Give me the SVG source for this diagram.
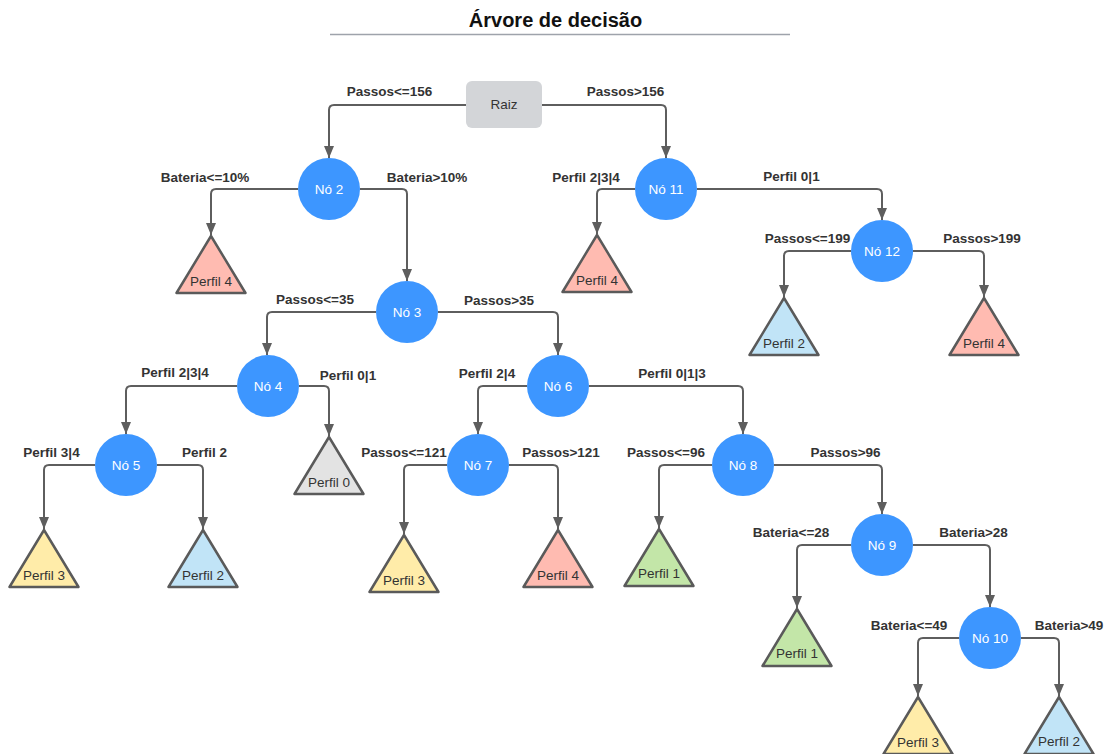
<svg xmlns="http://www.w3.org/2000/svg" width="1109" height="754" viewBox="0 0 1109 754">
<style>
.bg{fill:#ffffff}
.title{font-family:"Liberation Sans",Arial,sans-serif;font-size:20px;font-weight:bold;fill:#111111;text-anchor:middle}
.lbl{font-family:"Liberation Sans",Arial,sans-serif;font-size:13.5px;font-weight:bold;fill:#333333;text-anchor:middle}
.edge{fill:none;stroke:#5e5e5e;stroke-width:2}
.circ{fill:#3d96ff}
.ntxt{font-family:"Liberation Sans",Arial,sans-serif;font-size:13.5px;fill:#ffffff;text-anchor:middle}
.tri{stroke:#5a5a5a;stroke-width:2.5;stroke-linejoin:round}
.ttxt{font-family:"Liberation Sans",Arial,sans-serif;font-size:13.5px;fill:#333333;text-anchor:middle}
.pink{fill:#ffbbb1}
.blue{fill:#c1e4f7}
.yellow{fill:#ffeca9}
.green{fill:#c3e6a8}
.gray{fill:#e3e3e3}
</style>
<defs>
<marker id="arr" markerUnits="userSpaceOnUse" markerWidth="12" markerHeight="10" refX="12" refY="5" orient="auto">
<path d="M0,0 L12,5 L0,10 z" fill="#5e5e5e"/>
</marker>
</defs>
<rect class="bg" x="0" y="0" width="1109" height="754"/>
<g id="title">
<text class="title" x="555.5" y="27">Árvore de decisão</text>
<line x1="330" y1="34.5" x2="790" y2="34.5" stroke="#9ea3ab" stroke-width="1.5"/>
</g>
<g id="connectors">
<path class="edge" marker-end="url(#arr)" d="M466,105 H334 Q329,105 329,110 V158"/>
<path class="edge" marker-end="url(#arr)" d="M542,105 H661 Q666,105 666,110 V158"/>
<path class="edge" marker-end="url(#arr)" d="M298,189 H216 Q211,189 211,194 V235"/>
<path class="edge" marker-end="url(#arr)" d="M360,189 H402 Q407,189 407,194 V281"/>
<path class="edge" marker-end="url(#arr)" d="M376,312 H272 Q267,312 267,317 V355"/>
<path class="edge" marker-end="url(#arr)" d="M438,312 H553 Q558,312 558,317 V355"/>
<path class="edge" marker-end="url(#arr)" d="M237,386 H131 Q126,386 126,391 V434"/>
<path class="edge" marker-end="url(#arr)" d="M299,386 H324 Q329,386 329,391 V436"/>
<path class="edge" marker-end="url(#arr)" d="M95,465 H49 Q44,465 44,470 V529"/>
<path class="edge" marker-end="url(#arr)" d="M157,465 H198 Q203,465 203,470 V529"/>
<path class="edge" marker-end="url(#arr)" d="M527,386 H483 Q478,386 478,391 V434"/>
<path class="edge" marker-end="url(#arr)" d="M589,386 H738 Q743,386 743,391 V434"/>
<path class="edge" marker-end="url(#arr)" d="M447,465 H409 Q404,465 404,470 V534"/>
<path class="edge" marker-end="url(#arr)" d="M509,465 H553 Q558,465 558,470 V529"/>
<path class="edge" marker-end="url(#arr)" d="M712,465 H664 Q659,465 659,470 V528"/>
<path class="edge" marker-end="url(#arr)" d="M774,465 H877 Q882,465 882,470 V514"/>
<path class="edge" marker-end="url(#arr)" d="M851,545 H802 Q797,545 797,550 V608"/>
<path class="edge" marker-end="url(#arr)" d="M913,545 H985 Q990,545 990,550 V607"/>
<path class="edge" marker-end="url(#arr)" d="M959,638 H923 Q918,638 918,643 V696"/>
<path class="edge" marker-end="url(#arr)" d="M1021,638 H1054 Q1059,638 1059,643 V696"/>
<path class="edge" marker-end="url(#arr)" d="M635,189 H602 Q597,189 597,194 V234"/>
<path class="edge" marker-end="url(#arr)" d="M697,189 H877 Q882,189 882,194 V220"/>
<path class="edge" marker-end="url(#arr)" d="M851,251 H789 Q784,251 784,256 V297"/>
<path class="edge" marker-end="url(#arr)" d="M913,251 H979 Q984,251 984,256 V297"/>
</g>
<g id="edge-labels">
<text class="lbl" x="389.5" y="96">Passos&lt;=156</text>
<text class="lbl" x="625.5" y="96">Passos&gt;156</text>
<text class="lbl" x="205" y="182">Bateria&lt;=10%</text>
<text class="lbl" x="427" y="182">Bateria&gt;10%</text>
<text class="lbl" x="586" y="182">Perfil 2|3|4</text>
<text class="lbl" x="791.5" y="181">Perfil 0|1</text>
<text class="lbl" x="807.5" y="243">Passos&lt;=199</text>
<text class="lbl" x="982" y="243">Passos&gt;199</text>
<text class="lbl" x="315" y="304">Passos&lt;=35</text>
<text class="lbl" x="499" y="305">Passos&gt;35</text>
<text class="lbl" x="175" y="377">Perfil 2|3|4</text>
<text class="lbl" x="348" y="380">Perfil 0|1</text>
<text class="lbl" x="487" y="378">Perfil 2|4</text>
<text class="lbl" x="672" y="378">Perfil 0|1|3</text>
<text class="lbl" x="51.5" y="457">Perfil 3|4</text>
<text class="lbl" x="204.5" y="457">Perfil 2</text>
<text class="lbl" x="404" y="457">Passos&lt;=121</text>
<text class="lbl" x="561" y="457">Passos&gt;121</text>
<text class="lbl" x="666" y="457">Passos&lt;=96</text>
<text class="lbl" x="845.5" y="457">Passos&gt;96</text>
<text class="lbl" x="791" y="537">Bateria&lt;=28</text>
<text class="lbl" x="973.5" y="537">Bateria&gt;28</text>
<text class="lbl" x="909" y="630">Bateria&lt;=49</text>
<text class="lbl" x="1069" y="630">Bateria&gt;49</text>
</g>
<g id="raiz">
<rect x="466" y="81" width="76" height="47" rx="6" fill="#d3d5d8"/>
<text class="ttxt" x="504" y="109">Raiz</text>
</g>
<g id="no2"><circle class="circ" cx="329" cy="189" r="31"/><text class="ntxt" x="329" y="194">Nó 2</text></g>
<g id="no3"><circle class="circ" cx="407" cy="312" r="31"/><text class="ntxt" x="407" y="317">Nó 3</text></g>
<g id="no4"><circle class="circ" cx="268" cy="386" r="31"/><text class="ntxt" x="268" y="391">Nó 4</text></g>
<g id="no5"><circle class="circ" cx="126" cy="465" r="31"/><text class="ntxt" x="126" y="470">Nó 5</text></g>
<g id="no6"><circle class="circ" cx="558" cy="386" r="31"/><text class="ntxt" x="558" y="391">Nó 6</text></g>
<g id="no7"><circle class="circ" cx="478" cy="465" r="31"/><text class="ntxt" x="478" y="470">Nó 7</text></g>
<g id="no8"><circle class="circ" cx="743" cy="465" r="31"/><text class="ntxt" x="743" y="470">Nó 8</text></g>
<g id="no9"><circle class="circ" cx="882" cy="545" r="31"/><text class="ntxt" x="882" y="550">Nó 9</text></g>
<g id="no10"><circle class="circ" cx="990" cy="638" r="31"/><text class="ntxt" x="990" y="643">Nó 10</text></g>
<g id="no11"><circle class="circ" cx="666" cy="189" r="31"/><text class="ntxt" x="666" y="194">Nó 11</text></g>
<g id="no12"><circle class="circ" cx="882" cy="251" r="31"/><text class="ntxt" x="882" y="256">Nó 12</text></g>
<g id="leaf1"><polygon class="tri pink" points="211,236 245.5,293 176.5,293"/><text class="ttxt" x="211" y="286">Perfil 4</text></g>
<g id="leaf2"><polygon class="tri pink" points="597,235 631.5,292 562.5,292"/><text class="ttxt" x="597" y="285">Perfil 4</text></g>
<g id="leaf3"><polygon class="tri blue" points="784,298 818.5,355 749.5,355"/><text class="ttxt" x="784" y="348">Perfil 2</text></g>
<g id="leaf4"><polygon class="tri pink" points="984,298 1018.5,355 949.5,355"/><text class="ttxt" x="984" y="348">Perfil 4</text></g>
<g id="leaf5"><polygon class="tri gray" points="329,437 363.5,494 294.5,494"/><text class="ttxt" x="329" y="487">Perfil 0</text></g>
<g id="leaf6"><polygon class="tri yellow" points="44,530 78.5,587 9.5,587"/><text class="ttxt" x="44" y="580">Perfil 3</text></g>
<g id="leaf7"><polygon class="tri blue" points="203,530 237.5,587 168.5,587"/><text class="ttxt" x="203" y="580">Perfil 2</text></g>
<g id="leaf8"><polygon class="tri yellow" points="404,535 438.5,592 369.5,592"/><text class="ttxt" x="404" y="585">Perfil 3</text></g>
<g id="leaf9"><polygon class="tri pink" points="558,530 592.5,587 523.5,587"/><text class="ttxt" x="558" y="580">Perfil 4</text></g>
<g id="leaf10"><polygon class="tri green" points="659,529 693.5,586 624.5,586"/><text class="ttxt" x="659" y="578">Perfil 1</text></g>
<g id="leaf11"><polygon class="tri green" points="797,609 831.5,666 762.5,666"/><text class="ttxt" x="797" y="658">Perfil 1</text></g>
<g id="leaf12"><polygon class="tri yellow" points="918,697 952.5,754 883.5,754"/><text class="ttxt" x="918" y="747">Perfil 3</text></g>
<g id="leaf13"><polygon class="tri blue" points="1059,697 1093.5,754 1024.5,754"/><text class="ttxt" x="1059" y="746">Perfil 2</text></g>
</svg>
